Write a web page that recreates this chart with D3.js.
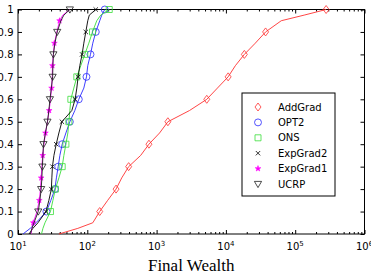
<!DOCTYPE html>
<html>
<head>
<meta charset="utf-8">
<script src="https://cdn.jsdelivr.net/npm/d3@7"></script>
<style>
  body { margin: 0; background: #fff; }
  svg { display: block; }
  .axis text { font-family: 'DejaVu Sans', sans-serif; font-size: 10px; fill: #000; }
  .axis line, .axis path { stroke: #000; }
  .legend text { font-family: 'DejaVu Sans', sans-serif; font-size: 10px; fill: #000; }
  .xlabel { font-family: 'Liberation Serif', 'DejaVu Serif', serif; font-size: 17px; fill: #000; }
  .sequence path.line { fill: none; stroke-width: 0.9; }
</style>
</head>
<body>
<div id="chart"></div>
<script>
// cumulative fraction of runs (y) for each final wealth value (x)
var levels = [0, 0.025, 0.05, 0.1, 0.15, 0.2, 0.25, 0.3, 0.35, 0.4, 0.45, 0.5,
  0.55, 0.6, 0.65, 0.7, 0.75, 0.8, 0.85, 0.9, 0.95, 0.975, 1];

var addGrad = [38.9, 72.9, 120, 151, 197, 260, 314, 395, 589, 775, 1104, 1455,
  2985, 5297, 7548, 10770, 13710, 18460, 26550, 37390, 62950, 134600, 279300];
var opt2 = [11.8, 15.0, 18.2, 25.7, 29.8, 34.1, 35.8, 38.0, 40.2, 43.4, 49.1, 56.0,
  66.1, 75.4, 89.1, 97.3, 101.6, 111.2, 120.0, 132.5, 151.3, 161.7, 178.5];
var ons = [21.8, 22.9, 24.5, 29.4, 31.9, 34.6, 38.9, 43.4, 45.9, 49.1, 52.4, 54.2,
  56.0, 57.9, 63.9, 70.6, 80.6, 92.0, 105.1, 118.8, 137.0, 156.4, 207.3];
var expGrad2 = [14.4, 16.4, 19.4, 25.3, 27.9, 30.3, 30.8, 31.4, 33.0, 35.6, 38.9, 43.0,
  59.8, 66.7, 70.6, 73.7, 78.0, 84.1, 89.1, 95.1, 101.6, 106.9, 132.5];
var expGrad1 = [15.4, 15.9, 16.6, 18.8, 20.3, 21.1, 21.6, 22.1, 22.7, 23.7, 24.9, 26.6,
  28.2, 29.4, 30.5, 31.2, 31.4, 32.4, 33.5, 36.4, 39.8, 44.4, 56.0];
var ucrp = [15.1, 15.9, 17.0, 19.6, 20.7, 21.6, 22.1, 22.5, 22.9, 23.3, 24.9, 26.6,
  27.9, 28.9, 30.3, 31.6, 31.9, 32.4, 34.1, 36.8, 41.6, 45.9, 56.0];

var seriesNames = ['AddGrad', 'OPT2', 'ONS', 'ExpGrad2', 'ExpGrad1', 'UCRP'];

// levels carrying a marker
var markLevels = [0.1, 0.2, 0.3, 0.4, 0.5, 0.6, 0.7, 0.8, 0.9, 1];
var markLevelsHalf = [0.05, 0.15, 0.25, 0.35, 0.45, 0.55, 0.65, 0.75, 0.85, 0.95];

var yTicks = [0, 0.1, 0.2, 0.3, 0.4, 0.5, 0.6, 0.7, 0.8, 0.9, 1];
var yTickLabels = ['0', '0.1', '0.2', '0.3', '0.4', '0.5', '0.6', '0.7', '0.8', '0.9', '1'];
var xTicks = [1e1, 1e2, 1e3, 1e4, 1e5, 1e6];
var xTickExponents = ['1', '2', '3', '4', '5', '6'];
var xLabel = 'Final Wealth';

var size = {w: 371, h: 276, l: 18, t: 9.5, r: 6.5, b: 42};

var series = [
  {values: addGrad, color: '#ff3030', marker: 'diamond', marks: markLevels},
  {values: opt2, color: '#2828ff', marker: 'circle', marks: markLevels},
  {values: ons, color: '#3ade3a', marker: 'square', marks: markLevels},
  {values: expGrad2, color: '#000000', marker: 'cross', marks: markLevels},
  {values: expGrad1, color: '#ff00ff', marker: 'star', marks: markLevelsHalf},
  {values: ucrp, color: '#202020', marker: 'triangle', marks: markLevels}
];

var x = d3.scaleLog()
  .domain([1e1, 1e6])
  .range([size.l, size.w - size.r]);
var y = d3.scaleLinear()
  .domain([0, 1])
  .range([size.h - size.b, size.t]);

var svg = d3.select('#chart').append('svg')
  .attr('width', size.w)
  .attr('height', size.h);

// marker shapes, centred on 0,0
var shapes = {
  diamond: 'M0,-4L3,0L0,4L-3,0Z',
  circle: d3.symbol(d3.symbolCircle, 38)(),
  square: 'M-3,-3H3V3H-3Z',
  cross: 'M-2.2,-2.2L2.2,2.2M-2.2,2.2L2.2,-2.2',
  star: d3.symbol(d3.symbolStar, 10)(),
  triangle: 'M-3.6,-2.6L3.6,-2.6L0,3.6Z'
};

function addMarker(g, type, color) {
  var filled = type == 'star';
  g.append('path')
    .attr('d', shapes[type])
    .attr('fill', filled ? color : 'none')
    .attr('stroke', color)
    .attr('stroke-width', filled ? 0.6 : 0.8);
}

// minor ticks for log axis
var minor = [];
for(var e = 1; e < 6; e++) {
  for(var k = 2; k < 10; k++) minor.push(k*Math.pow(10, e));
}

// bottom axis
var gx = svg.append('g')
  .attr('class', 'axis axis-x')
  .attr('transform', 'translate(0,' + y(0) + ')');
gx.append('g').call(d3.axisBottom(x).tickValues(minor).tickSize(-2).tickFormat(''))
  .select('.domain').remove();
gx.append('g').call(d3.axisBottom(x).tickValues(xTicks).tickSize(-4).tickFormat(''))
  .select('.domain').remove();
xTicks.forEach(function(t, i) {
  var text = gx.append('text')
    .attr('x', x(t))
    .attr('y', 16)
    .attr('text-anchor', 'middle');
  text.append('tspan').text('10');
  text.append('tspan')
    .attr('dy', -4.5)
    .style('font-size', '7px')
    .text(xTickExponents[i]);
});

// top axis
var gt = svg.append('g')
  .attr('class', 'axis axis-top')
  .attr('transform', 'translate(0,' + y(1) + ')');
gt.append('g').call(d3.axisTop(x).tickValues(minor).tickSize(-2).tickFormat(''))
  .select('.domain').remove();
gt.append('g').call(d3.axisTop(x).tickValues(xTicks).tickSize(-4).tickFormat(''))
  .select('.domain').remove();

// left axis
svg.append('g')
  .attr('class', 'axis axis-y')
  .attr('transform', 'translate(' + x(1e1) + ',0)')
  .call(d3.axisLeft(y).tickValues(yTicks).tickSize(-4).tickPadding(4.5)
    .tickFormat(function(d, i) { return yTickLabels[i]; }))
  .select('.domain').remove();

// right axis
svg.append('g')
  .attr('class', 'axis axis-right')
  .attr('transform', 'translate(' + x(1e6) + ',0)')
  .call(d3.axisRight(y).tickValues(yTicks).tickSize(-4).tickFormat(''))
  .select('.domain').remove();

// frame
svg.append('rect')
  .attr('x', x(1e1))
  .attr('y', y(1))
  .attr('width', x(1e6) - x(1e1))
  .attr('height', y(0) - y(1))
  .attr('fill', 'none')
  .attr('stroke', '#000')
  .attr('stroke-width', 1);

// curves
var line = d3.line()
  .x(function(d) { return x(d.v); })
  .y(function(d) { return y(d.q); });

series.forEach(function(s) {
  var points = s.values.map(function(v, i) { return {v: v, q: levels[i]}; });
  var g = svg.append('g').attr('class', 'sequence');
  g.append('path')
    .attr('class', 'line')
    .attr('d', line(points))
    .attr('stroke', s.color);
  points.filter(function(p) {
    return s.marks.some(function(m) { return Math.abs(m - p.q) < 1e-6; });
  }).forEach(function(p) {
    var mg = g.append('g')
      .attr('transform', 'translate(' + [x(p.v), y(p.q)].join(',') + ')');
    addMarker(mg, s.marker, s.color);
  });
});

// legend
var legend = svg.append('g')
  .attr('class', 'legend')
  .attr('transform', 'translate(242,93)');
legend.append('rect')
  .attr('width', 93)
  .attr('height', 103)
  .attr('fill', '#fff')
  .attr('stroke', '#000')
  .attr('stroke-width', 1);
seriesNames.forEach(function(name, i) {
  var row = legend.append('g')
    .attr('transform', 'translate(0,' + (14 + i*15.4) + ')');
  var mg = row.append('g').attr('transform', 'translate(16,0)');
  addMarker(mg, series[i].marker, series[i].color);
  row.append('text')
    .attr('x', 36)
    .attr('dy', '0.35em')
    .text(name);
});

// x label
svg.append('text')
  .attr('class', 'xlabel')
  .attr('x', (x(1e1) + x(1e6))/2)
  .attr('y', 271)
  .attr('text-anchor', 'middle')
  .text(xLabel);
</script>
</body>
</html>
